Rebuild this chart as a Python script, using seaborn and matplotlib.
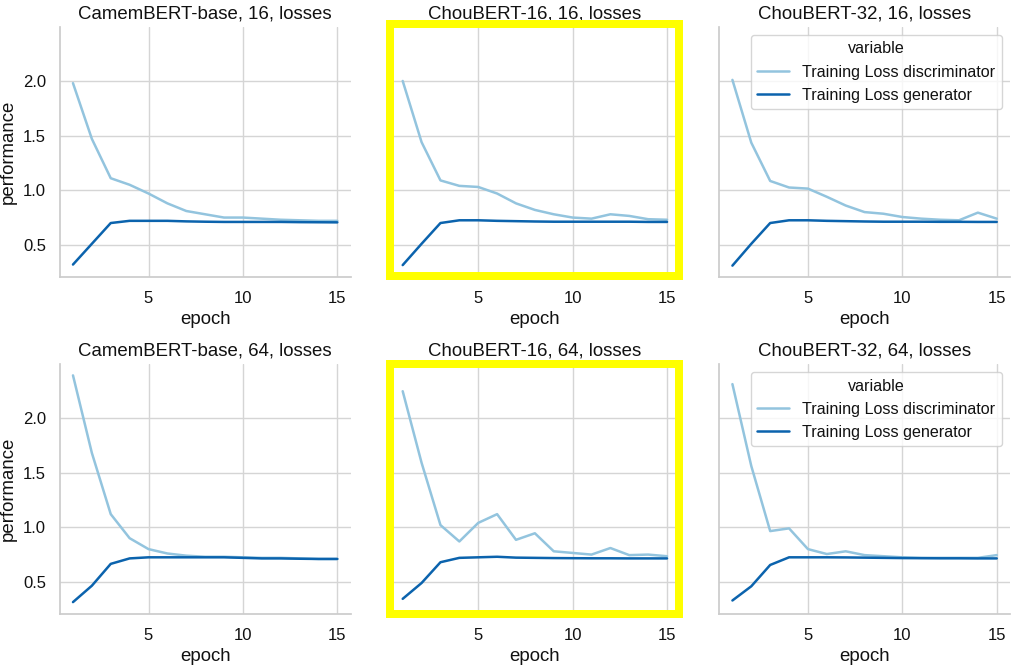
import numpy as np
import matplotlib
matplotlib.use('Agg')
import matplotlib.pyplot as plt
import pandas as pd
import seaborn as sns
from matplotlib.patches import Rectangle

#------------------------------------DATA------------------------------------#
epochs = list(range(1, 16))

models = ['CamemBERT-base', 'ChouBERT-16', 'ChouBERT-32']
batches = [16, 64]

# discriminator / generator training losses
disc_cam_16 = [1.98, 1.47, 1.11, 1.05, 0.97, 0.88, 0.81, 0.78, 0.75, 0.75, 0.74, 0.73, 0.725, 0.72, 0.72]
gen_cam_16 = [0.32, 0.51, 0.70, 0.72, 0.72, 0.72, 0.715, 0.712, 0.71, 0.71, 0.71, 0.71, 0.708, 0.707, 0.706]

disc_c16_16 = [2.00, 1.44, 1.09, 1.04, 1.03, 0.97, 0.88, 0.82, 0.78, 0.75, 0.74, 0.78, 0.765, 0.735, 0.73]
gen_c16_16 = [0.315, 0.51, 0.70, 0.725, 0.725, 0.72, 0.717, 0.714, 0.712, 0.712, 0.712, 0.712, 0.712, 0.71, 0.71]

disc_c32_16 = [2.01, 1.435, 1.085, 1.025, 1.015, 0.94, 0.86, 0.80, 0.785, 0.755, 0.74, 0.73, 0.725, 0.795, 0.74]
gen_c32_16 = [0.31, 0.51, 0.70, 0.725, 0.725, 0.72, 0.717, 0.714, 0.712, 0.712, 0.712, 0.711, 0.711, 0.71, 0.71]

disc_cam_64 = [2.39, 1.68, 1.12, 0.90, 0.80, 0.76, 0.74, 0.73, 0.73, 0.725, 0.72, 0.72, 0.715, 0.71, 0.71]
gen_cam_64 = [0.315, 0.465, 0.665, 0.715, 0.725, 0.725, 0.725, 0.725, 0.725, 0.72, 0.715, 0.715, 0.712, 0.71, 0.71]

disc_c16_64 = [2.245, 1.59, 1.02, 0.87, 1.04, 1.12, 0.885, 0.945, 0.78, 0.765, 0.75, 0.81, 0.745, 0.75, 0.735]
gen_c16_64 = [0.345, 0.49, 0.68, 0.72, 0.725, 0.73, 0.722, 0.72, 0.718, 0.717, 0.716, 0.716, 0.715, 0.715, 0.715]

disc_c32_64 = [2.31, 1.56, 0.965, 0.99, 0.80, 0.755, 0.78, 0.745, 0.735, 0.725, 0.72, 0.72, 0.72, 0.72, 0.745]
gen_c32_64 = [0.33, 0.46, 0.655, 0.725, 0.725, 0.725, 0.724, 0.722, 0.72, 0.718, 0.717, 0.716, 0.716, 0.715, 0.715]

disc = [[disc_cam_16, disc_c16_16, disc_c32_16],
        [disc_cam_64, disc_c16_64, disc_c32_64]]
gen = [[gen_cam_16, gen_c16_16, gen_c32_16],
       [gen_cam_64, gen_c16_64, gen_c32_64]]

#-----------------------------------STYLE------------------------------------#
sns.set_theme(style='whitegrid')
plt.rcParams['font.family'] = ['Liberation Sans', 'DejaVu Sans']
plt.rcParams['axes.edgecolor'] = '#cccccc'
plt.rcParams['grid.color'] = '#d5d5d5'
plt.rcParams['text.color'] = '#111111'
plt.rcParams['axes.labelcolor'] = '#111111'
plt.rcParams['xtick.color'] = '#111111'
plt.rcParams['ytick.color'] = '#111111'

colours = ['#93c4de', '#0b63ad']

fig, axs = plt.subplots(2, 3, figsize=(10.13, 6.68), dpi=100, sharey=True)
fig.subplots_adjust(left=0.059, right=0.997, top=0.9596, bottom=0.0808,
                    wspace=0.134, hspace=0.348)

for r, b in enumerate(batches):
    for c, m in enumerate(models):
        ax = axs[r, c]
        df = pd.DataFrame({'epoch': epochs,
                           'Training Loss discriminator': disc[r][c],
                           'Training Loss generator': gen[r][c]})
        df = df.melt(id_vars='epoch')
        sns.lineplot(data=df, x='epoch', y='value', hue='variable',
                     palette=colours, lw=1.8, ax=ax, legend=(c == 2))
        ax.set_title('%s, %d, losses' % (m, b), fontsize=13.4)
        ax.set_xlabel('epoch', fontsize=13.4)
        ax.set_ylabel('performance' if c == 0 else '', fontsize=13.4)
        ax.set_xticks([5, 10, 15])
        ax.tick_params(labelsize=12, pad=4)
        ax.tick_params(axis='x', labelbottom=True)
        sns.despine(ax=ax)
        if c == 2:
            leg = ax.legend(title='variable', loc='upper right', fontsize=11.6,
                            title_fontsize=11.6)
            leg.get_frame().set_edgecolor('#cccccc')

axs[0, 0].set_yticks([0.5, 1.0, 1.5, 2.0])

# yellow highlight boxes around the ChouBERT-16 panels (pixel positions)
for y0, y1 in [(24, 276), (364, 614)]:
    rect = Rectangle((390 / 100, (668 - y1) / 100), 289 / 100, (y1 - y0) / 100,
                     transform=fig.dpi_scale_trans, fill=False,
                     edgecolor='#ffff00', lw=5.76, zorder=10)
    fig.patches.append(rect)

plt.savefig('out.png', dpi=100)
